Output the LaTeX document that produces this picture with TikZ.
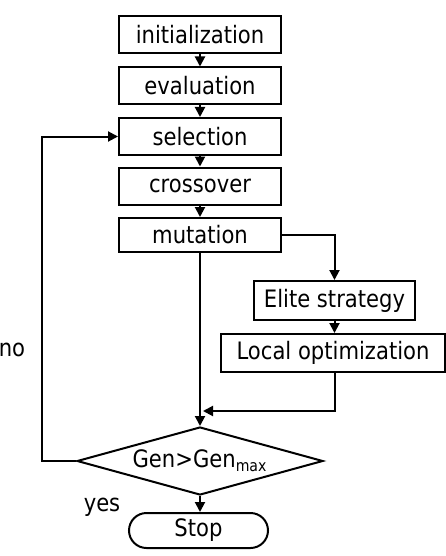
\documentclass[tikz,border=0pt]{standalone}
\usepackage{fontspec}
\setmainfont[FakeStretch=0.88]{DejaVu Sans}
\usetikzlibrary{arrows.meta, calc, positioning, shapes.geometric}

\begin{document}
\begin{tikzpicture}[x=0.5pt, y=-0.5pt,
  every node/.style={font=\fontsize{12}{14}\selectfont},
  stage/.style={draw, line width=1pt, minimum width=81pt, minimum height=18.5pt, inner sep=0pt},
  flow/.style={line width=1pt, -{Triangle[length=5pt, width=5pt]}}]
\useasboundingbox (0,0) rectangle (445,556);

% Main stages
\node[stage] (init) at (200,34.5) {initialization};
\node[stage] (eval) at (200,86) {evaluation};
\node[stage] (select) at (200,136.5) {selection};
\node[stage] (cross) at (200,186) {crossover};
\node[stage, minimum height=17pt] (mutate) at (200,235) {mutation};

% Side branch
\node[stage, minimum width=80.5pt, minimum height=19.5pt] (elite) at (334.5,300.5) {Elite strategy};
\node[stage, minimum width=112pt, minimum height=19pt] (localopt) at (333,353) {Local optimization};

% Test and end
\node[draw, diamond, line width=1pt, aspect=3.6, inner sep=0pt, minimum width=123pt, minimum height=34pt] (test) at (200,461) {Gen>Gen\textsubscript{max}};
\node[draw, rounded corners=8.75pt, line width=1pt, minimum width=69.5pt, minimum height=17.5pt, inner sep=0pt] (stop) at (198.5,530.5) {Stop};

\node (no) at (12,350) {no};
\node (yes) at (102,507) {yes};

\coordinate (join) at (203,411);
\coordinate (loop) at (42,461);

% Connectors
\draw[flow] (init) -- (eval);
\draw[flow] (eval) -- (select);
\draw[flow] (select) -- (cross);
\draw[flow] (cross) -- (mutate);
\draw[flow] (mutate.east) -| (elite.north);
\draw[flow] (elite.south) -- (elite.south |- localopt.north);
\draw[flow] (localopt.south -| elite.south) |- (join);
\draw[flow] (mutate.south) -- (test.north);
\draw[flow] (test.west) -- (loop) |- (select.west);
\draw[flow] (test.south) -- (test.south |- stop.north);
\end{tikzpicture}
\end{document}
